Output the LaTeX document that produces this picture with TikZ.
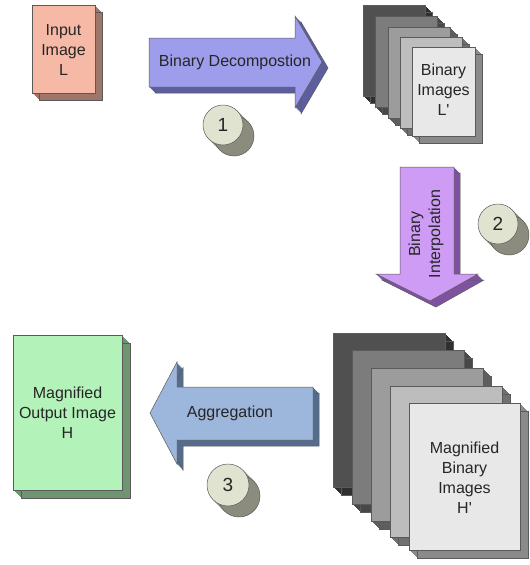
\documentclass[tikz,border=0pt]{standalone}
\usepackage{fontspec}
\setmainfont{Liberation Sans}[Ligatures=TeXOff]
\definecolor{edgec}{HTML}{5A5A5A}
\definecolor{salmonF}{HTML}{F6B9A6}
\definecolor{salmonD}{HTML}{A0756A}
\definecolor{purpF}{HTML}{9D9DEB}
\definecolor{purpD}{HTML}{5E5E9E}
\definecolor{violF}{HTML}{CE9BF5}
\definecolor{violD}{HTML}{7E529E}
\definecolor{greenF}{HTML}{B3F2B8}
\definecolor{greenD}{HTML}{6E9470}
\definecolor{blueF}{HTML}{9DB6DC}
\definecolor{blueD}{HTML}{566C8C}
\definecolor{coinF}{HTML}{E0E3CF}
\definecolor{coinD}{HTML}{8C8C7E}
\definecolor{g1F}{HTML}{505050}\definecolor{g1D}{HTML}{303030}
\definecolor{g2F}{HTML}{7C7C7C}\definecolor{g2D}{HTML}{484848}
\definecolor{g3F}{HTML}{9C9C9C}\definecolor{g3D}{HTML}{5E5E5E}
\definecolor{g4F}{HTML}{BDBDBD}\definecolor{g4D}{HTML}{707070}
\definecolor{g5F}{HTML}{E8E8E8}\definecolor{g5D}{HTML}{8A8A8A}
\newcommand{\solidshape}[4]{%
  \foreach \k in {#1,...,1} {\path[fill=#3, shift={(\k,\k)}] #4;}
  \draw[edgec, line width=0.5pt, shift={(#1,#1)}] #4;
  \filldraw[fill=#2, draw=edgec, line width=0.5pt] #4;}
\tikzset{
  lbl/.style={font=\fontsize{16}{20}\selectfont, align=center, text=black!85},
  num/.style={font=\fontsize{19}{21}\selectfont, text=black!85}
}
\begin{document}
\begin{tikzpicture}[x=1pt,y=-1pt]
\useasboundingbox (0,0) rectangle (530,565);
% Input image
\solidshape{7}{salmonF}{salmonD}{(32,5) rectangle (95,93)}
\node[lbl] (inp) at (63.5,50) {Input\\Image\\L};
% Arrow 1
\solidshape{6}{purpF}{purpD}{(149,38) -- (295,38) -- (295,16) -- (322,62) -- (295,108) -- (295,87) -- (149,87) -- cycle}
\node[lbl] (a1) at (235,62) {Binary Decompostion};
% coin 1
\solidshape{11}{coinF}{coinD}{(223,125) circle (20)}
\node[num] (c1) at (223,125) {1};
% Binary images stack
\solidshape{7}{g1F}{g1D}{(363,5) rectangle (425,96)}
\solidshape{7}{g2F}{g2D}{(375,16) rectangle (437,107)}
\solidshape{7}{g3F}{g3D}{(388,27) rectangle (450,118)}
\solidshape{7}{g4F}{g4D}{(400,37) rectangle (462,128)}
\solidshape{7}{g5F}{g5D}{(412,47) rectangle (475,136)}
\node[lbl] (bi) at (443.5,90) {Binary\\Images\\L'};
% Arrow 2
\solidshape{6}{violF}{violD}{(400,167) -- (454,167) -- (454,274) -- (478,274) -- (430,301) -- (376,274) -- (400,274) -- cycle}
\node[lbl, rotate=90] (a2) at (426,234) {Binary\\Interpolation};
% coin 2
\solidshape{11}{coinF}{coinD}{(498,224) circle (20)}
\node[num] (c2) at (498,224) {2};
% Magnified binary stack
\solidshape{8}{g1F}{g1D}{(333,333) rectangle (445,487)}
\solidshape{8}{g2F}{g2D}{(352,350) rectangle (464,504)}
\solidshape{8}{g3F}{g3D}{(371,368) rectangle (483,521)}
\solidshape{8}{g4F}{g4D}{(390,386) rectangle (502,537)}
\solidshape{8}{g5F}{g5D}{(409,403) rectangle (520,550)}
\node[lbl] (mb) at (464.5,478) {Magnified\\Binary\\Images\\H'};
% Arrow 3
\solidshape{6}{blueF}{blueD}{(313,387) -- (313,440) -- (177,440) -- (177,464) -- (150,413) -- (177,362) -- (177,387) -- cycle}
\node[lbl] (a3) at (230,413) {Aggregation};
% coin 3
\solidshape{11}{coinF}{coinD}{(228,485) circle (21)}
\node[num] (c3) at (228,485) {3};
% Output image
\solidshape{8}{greenF}{greenD}{(13,335) rectangle (122,490)}
\node[lbl] (out) at (67.5,413) {Magnified\\Output Image\\H};
\end{tikzpicture}
\end{document}
